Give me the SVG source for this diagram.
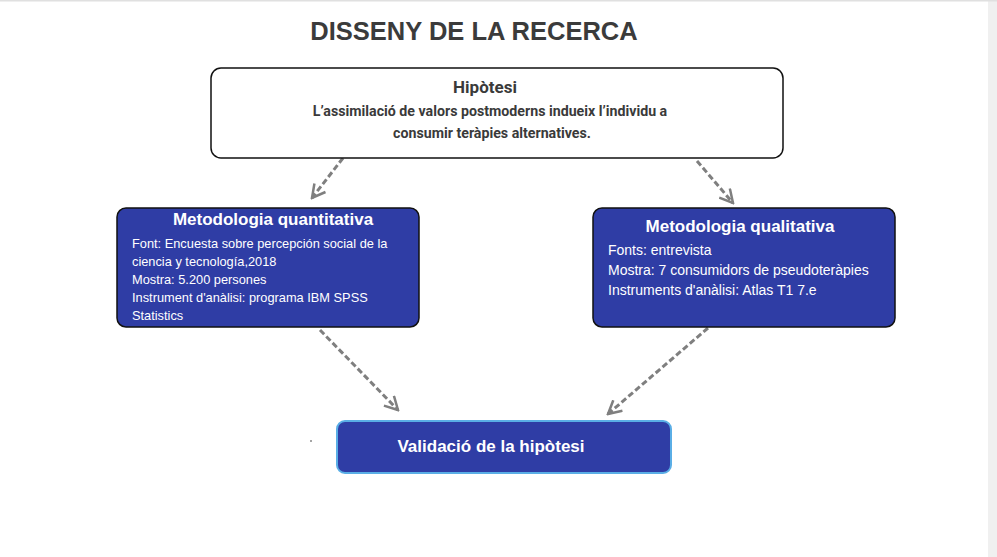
<svg xmlns="http://www.w3.org/2000/svg" width="997" height="557" viewBox="0 0 997 557">
<defs>
<marker id="arr" viewBox="0 0 16 16" refX="14" refY="8" markerWidth="16" markerHeight="16" markerUnits="userSpaceOnUse" orient="auto">
<path d="M1,1 L14,8 L1,15" fill="none" stroke="#7f7f7f" stroke-width="2.5"/>
</marker>
<style>
.title{font-family:"Liberation Sans",Arial,sans-serif;font-weight:bold;font-size:25.5px;fill:#3b3b3b}
.blue{fill:#2f3da5;stroke:#111;stroke-width:1.5}
.hd{font-family:"Liberation Sans",Arial,sans-serif;font-weight:bold;font-size:17px;fill:#fff}
.tx{font-family:"Liberation Sans",Arial,sans-serif;font-size:12.8px;fill:#fff}
.tx2{font-family:"Liberation Sans",Arial,sans-serif;font-size:14px;fill:#fff}
.hyp{font-family:Roboto,"Liberation Sans",sans-serif;font-weight:bold;fill:#3a3a3a}
.con{fill:none;stroke:#7f7f7f;stroke-width:3;stroke-dasharray:6,3;marker-end:url(#arr)}
</style>
</defs>
<rect width="997" height="557" fill="#ffffff"/>
<rect x="988" y="0" width="9" height="557" fill="#f0f0f0"/>
<rect x="0" y="0" width="997" height="1.5" fill="#e0e0e0"/>
<text class="title" x="474" y="40" text-anchor="middle">DISSENY DE LA RECERCA</text>
<g id="connectors">
<line class="con" x1="343" y1="158" x2="312" y2="198"/>
<line class="con" x1="697" y1="161" x2="733" y2="203"/>
<line class="con" x1="320" y1="330" x2="398" y2="410"/>
<line class="con" x1="708" y1="328" x2="608" y2="414"/>
</g>
<g id="hipotesi">
<rect x="211" y="68" width="572" height="90" rx="10" fill="#fff" stroke="#111" stroke-width="1.5"/>
<text class="hyp" x="485" y="93" text-anchor="middle" font-size="17">Hipòtesi</text>
<text class="hyp" x="490" y="116" text-anchor="middle" font-size="14.2">L’assimilació de valors postmoderns indueix l’individu a</text>
<text class="hyp" x="492" y="138" text-anchor="middle" font-size="14.2">consumir teràpies alternatives.</text>
</g>
<g id="quantitativa">
<rect class="blue" x="117" y="208" width="302" height="119" rx="9"/>
<text class="hd" x="273" y="225" text-anchor="middle">Metodologia quantitativa</text>
<text class="tx" x="132" y="248">Font: Encuesta sobre percepción social de la</text>
<text class="tx" x="132" y="266">ciencia y tecnología,2018</text>
<text class="tx" x="132" y="284">Mostra: 5.200 persones</text>
<text class="tx" x="132" y="302">Instrument d'anàlisi: programa IBM SPSS</text>
<text class="tx" x="132" y="320">Statistics</text>
</g>
<g id="qualitativa">
<rect class="blue" x="593" y="208" width="302" height="119" rx="9"/>
<text class="hd" x="740" y="232" text-anchor="middle">Metodologia qualitativa</text>
<text class="tx2" x="608" y="255">Fonts: entrevista</text>
<text class="tx2" x="608" y="275">Mostra: 7 consumidors de pseudoteràpies</text>
<text class="tx2" x="608" y="295">Instruments d'anàlisi: Atlas T1 7.e</text>
</g>
<g id="validacio">
<rect x="337" y="421" width="334" height="52" rx="8" fill="#2f3da5" stroke="#5aaee6" stroke-width="2"/>
<text class="hd" x="491" y="452" text-anchor="middle">Validació de la hipòtesi</text>
</g>
<circle cx="311" cy="441" r="0.8" fill="#333"/>
</svg>
